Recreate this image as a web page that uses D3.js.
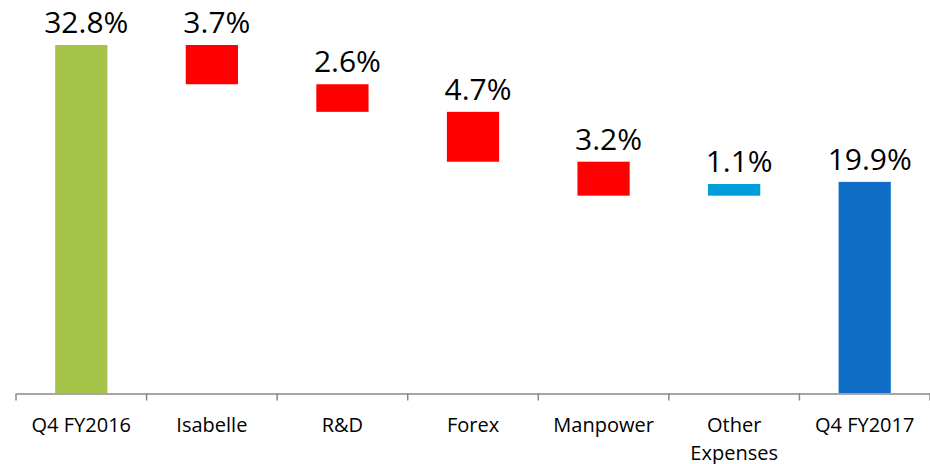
<!DOCTYPE html>
<html>
<head>
<meta charset="utf-8">
<script src="https://cdn.jsdelivr.net/npm/d3@7"></script>
<style>
  body { margin: 0; background: #fff; }
  svg { display: block; font-family: "Open Sans", sans-serif; }
</style>
</head>
<body>
<svg id="chart"></svg>
<script>
// chart values
const categories = ['Q4 FY2016', 'Isabelle', 'R&D', 'Forex', 'Manpower', 'Other Expenses', 'Q4 FY2017'];
const values = [32.8, -3.7, -2.6, -4.7, -3.2, 1.1, 19.9];
const kinds = ['total', 'delta', 'delta', 'delta', 'delta', 'delta', 'total'];
const valueLabels = ['32.8%', '3.7%', '2.6%', '4.7%', '3.2%', '1.1%', '19.9%'];

class Waterfall {

  constructor(_config) {
    this.config = {
      parentElement: _config.parentElement,
      containerWidth: _config.containerWidth || 930,
      containerHeight: _config.containerHeight || 464,
      margin: {top: 45, right: 0, bottom: 71, left: 16}
    };
    this.initVis();
  }

  initVis() {
    let vis = this;

    vis.width = vis.config.containerWidth - vis.config.margin.left - vis.config.margin.right;
    vis.height = vis.config.containerHeight - vis.config.margin.top - vis.config.margin.bottom;

    vis.svg = d3.select(vis.config.parentElement)
      .attr('width', vis.config.containerWidth)
      .attr('height', vis.config.containerHeight);

    vis.chart = vis.svg.append('g')
      .attr('transform', `translate(${vis.config.margin.left}, ${vis.config.margin.top})`);

    // outer padding = half the inner padding so each category owns one full step
    vis.xScale = d3.scaleBand()
      .domain(categories)
      .range([0, vis.width])
      .paddingInner(0.6)
      .paddingOuter(0.3);

    vis.yScale = d3.scaleLinear()
      .domain([0, d3.max(values)])
      .range([vis.height, 0]);

    // build running totals for the floating bars
    let running = 0;
    vis.data = categories.map((c, i) => {
      let lo, hi;
      if (kinds[i] === 'total') {
        lo = 0; hi = values[i]; running = values[i];
      } else {
        lo = Math.min(running, running + values[i]);
        hi = Math.max(running, running + values[i]);
        running += values[i];
      }
      return {cat: c, lo: lo, hi: hi, val: values[i], kind: kinds[i], label: valueLabels[i], idx: i};
    });

    vis.updateVis();
  }

  color(d) {
    if (d.kind === 'total') return d.idx === 0 ? '#A5C249' : '#0F6FC6';
    return d.val < 0 ? '#FF0000' : '#009DD9';
  }

  updateVis() {
    let vis = this;

    vis.chart.selectAll('.bar')
      .data(vis.data)
      .join('rect')
      .attr('class', 'bar')
      .attr('x', d => vis.xScale(d.cat))
      .attr('width', vis.xScale.bandwidth())
      .attr('y', d => vis.yScale(d.hi))
      .attr('height', d => vis.yScale(d.lo) - vis.yScale(d.hi))
      .attr('fill', d => vis.color(d));

    vis.chart.selectAll('.val-label')
      .data(vis.data)
      .join('text')
      .attr('class', 'val-label')
      .attr('x', d => vis.xScale(d.cat) + vis.xScale.bandwidth() / 2 + 5)
      .attr('y', d => vis.yScale(d.hi) - 12)
      .attr('text-anchor', 'middle')
      .attr('font-size', 30)
      .attr('fill', '#000')
      .text(d => d.label);

    // axis: labels from d3.axisBottom, ticks on category boundaries
    vis.xAxis = d3.axisBottom(vis.xScale).tickSize(0).tickPadding(0);
    vis.xAxisGroup = vis.chart.append('g')
      .attr('class', 'axis x-axis')
      .attr('transform', `translate(0, ${vis.height + 0.5})`)
      .call(vis.xAxis);

    vis.xAxisGroup.select('.domain')
      .attr('stroke', '#898989')
      .attr('stroke-width', 1.5);

    let step = vis.xScale.step();
    vis.xAxisGroup.selectAll('.bound')
      .data(d3.range(categories.length + 1))
      .join('line')
      .attr('class', 'bound')
      .attr('x1', i => i * step)
      .attr('x2', i => i * step)
      .attr('y1', 0)
      .attr('y2', 7)
      .attr('stroke', '#898989')
      .attr('stroke-width', 1.5);

    vis.xAxisGroup.selectAll('.tick text')
      .attr('font-family', '"Open Sans", sans-serif')
      .attr('font-size', 20)
      .attr('fill', '#000')
      .attr('y', 38)
      .attr('dy', 0)
      .each(function(d) {
        // wrap long labels onto a second line
        let t = d3.select(this);
        let words = d.split(' ');
        t.text(null);
        let line = [];
        let tspan = t.append('tspan').attr('x', 0).attr('y', 38);
        let lineNo = 0;
        words.forEach(w => {
          line.push(w);
          tspan.text(line.join(' '));
          if (tspan.node().getComputedTextLength() > step - 4 && line.length > 1) {
            line.pop();
            tspan.text(line.join(' '));
            line = [w];
            lineNo++;
            tspan = t.append('tspan').attr('x', 0).attr('y', 38 + lineNo * 28).text(w);
          }
        });
      });
  }
}

new Waterfall({parentElement: '#chart'});
</script>
</body>
</html>
